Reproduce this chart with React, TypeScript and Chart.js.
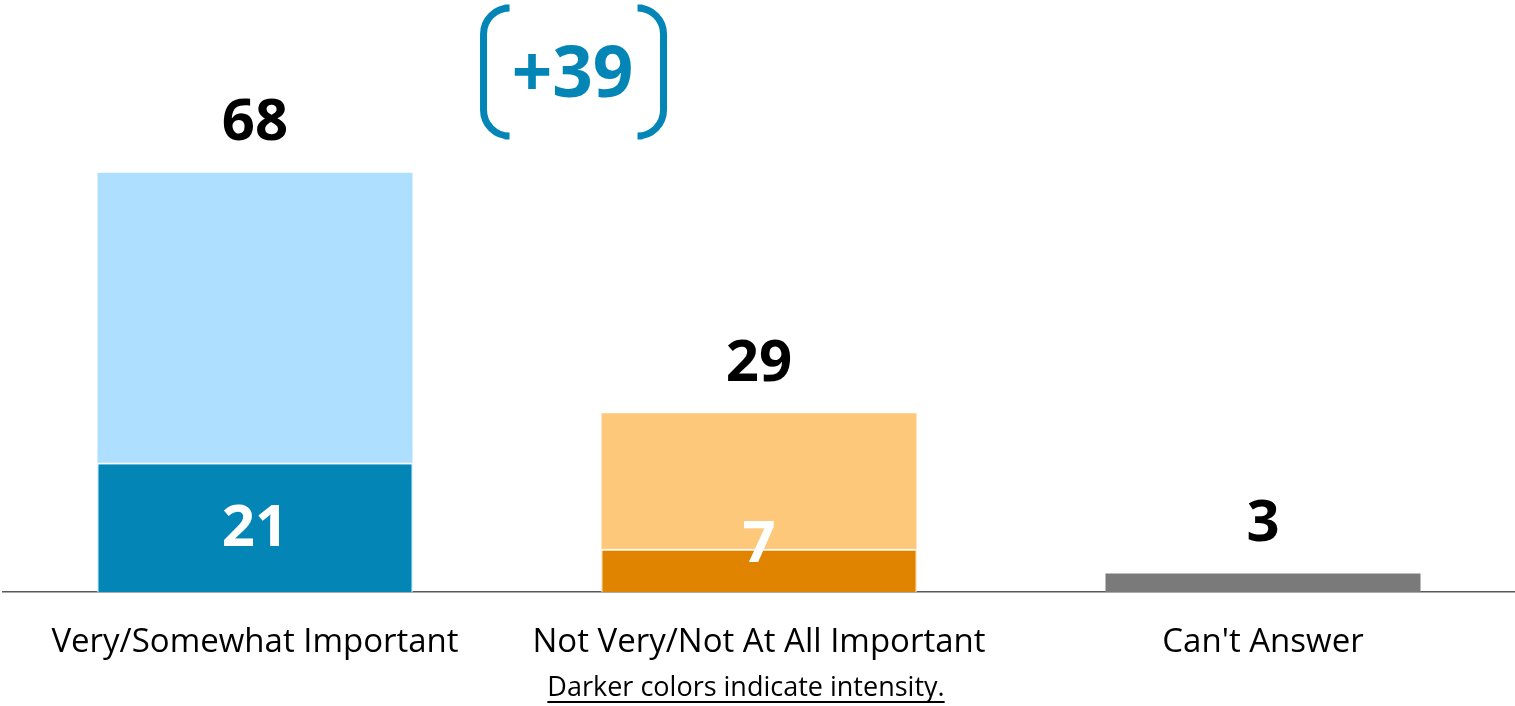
import React, { useEffect, useRef } from "react";
import { Chart, registerables } from "chart.js";

Chart.register(...registerables);

const categories = ["Very/Somewhat Important", "Not Very/Not At All Important", "Can't Answer"];
const totals = [68, 29, 3];
const intense = [21, 7, null];
const lightColors = ["#AEDFFE", "#FEC87B", "#7A7A7A"];
const darkColors = ["#0386B6", "#E08400", "#7A7A7A"];
const gapLabel = "+39";
const footnote = "Darker colors indicate intensity.";

const FONT = "'Open Sans', 'DejaVu Sans', sans-serif";
const BLUE = "#0386B6";

const labelPlugin = {
  id: "labels",
  afterDatasetsDraw(chart: any) {
    const ctx = chart.ctx;
    const xs = chart.scales.x;
    const ys = chart.scales.y;
    const base = ys.getPixelForValue(0);
    ctx.save();
    ctx.textAlign = "center";
    ctx.textBaseline = "middle";
    categories.forEach((_, i) => {
      const x = xs.getPixelForValue(i);
      const top = ys.getPixelForValue(totals[i]);
      ctx.fillStyle = "#000";
      ctx.font = `bold 58px ${FONT}`;
      ctx.fillText(String(totals[i]), x, top - 49);
      const v = intense[i];
      if (v !== null && v !== undefined) {
        const dTop = ys.getPixelForValue(v);
        const y = Math.min((dTop + base) / 2 + 2, base - 47);
        ctx.fillStyle = "#fff";
        ctx.fillText(String(v), x, y);
      }
    });
    // gap annotation
    const spacing = xs.getPixelForValue(1) - xs.getPixelForValue(0);
    const cx = xs.getPixelForValue(0) + 0.632 * spacing;
    const cy = 72;
    ctx.fillStyle = BLUE;
    ctx.font = `bold 71px ${FONT}`;
    ctx.fillText(gapLabel, cx - 1, cy + 5);
    ctx.strokeStyle = BLUE;
    ctx.lineWidth = 7;
    ctx.lineCap = "butt";
    const half = 64;
    const r = 26;
    const lx = cx - 90;
    const rx = cx + 90;
    const ew = 21;
    ctx.beginPath();
    ctx.moveTo(lx + ew, cy - half);
    ctx.arcTo(lx, cy - half, lx, cy - half + r, r);
    ctx.lineTo(lx, cy + half - r);
    ctx.arcTo(lx, cy + half, lx + ew, cy + half, r);
    ctx.lineTo(lx + ew, cy + half);
    ctx.stroke();
    ctx.beginPath();
    ctx.moveTo(rx - ew, cy - half);
    ctx.arcTo(rx, cy - half, rx, cy - half + r, r);
    ctx.lineTo(rx, cy + half - r);
    ctx.arcTo(rx, cy + half, rx - ew, cy + half, r);
    ctx.lineTo(rx - ew, cy + half);
    ctx.stroke();
    // footnote
    const fx = 746;
    const fy = 696;
    ctx.fillStyle = "#000";
    ctx.font = `27px ${FONT}`;
    ctx.textBaseline = "alphabetic";
    ctx.fillText(footnote, fx, fy);
    const w = ctx.measureText(footnote).width;
    ctx.fillRect(fx - w / 2, fy + 5, w, 2);
    ctx.restore();
  },
};

export default function App() {
  const ref = useRef<HTMLCanvasElement>(null);
  useEffect(() => {
    if (!ref.current) return;
    const chart = new Chart(ref.current, {
      type: "bar",
      data: {
        labels: categories,
        datasets: [
          {
            label: "Intensity",
            data: intense as any,
            backgroundColor: darkColors,
            borderColor: "#ffffff",
            borderWidth: { top: 2, left: 1, right: 1, bottom: 0 } as any,
            borderSkipped: false as any,
            grouped: false,
            barPercentage: 0.625,
            categoryPercentage: 1,
          },
          {
            label: "Total",
            data: totals,
            backgroundColor: lightColors,
            borderWidth: 0,
            grouped: false,
            barPercentage: 0.625,
            categoryPercentage: 1,
          },
        ],
      },
      options: {
        responsive: false,
        animation: false,
        layout: { padding: { left: 3, right: 0, top: 0, bottom: 0 } },
        plugins: { legend: { display: false }, tooltip: { enabled: false } },
        scales: {
          x: {
            grid: { display: false, drawTicks: false },
            border: { display: true, color: "#595959", width: 1.5 },
            ticks: {
              color: "#000",
              font: { family: FONT, size: 33 },
              padding: 31,
              maxRotation: 0,
            },
            afterFit: (s: any) => {
              s.height = 114;
            },
          },
          y: { display: false, min: 0, max: 96 },
        },
      },
      plugins: [labelPlugin],
    });
    return () => chart.destroy();
  }, []);
  return (
    <div style={{ position: "absolute", left: 0, top: 0, width: 1515, height: 706, background: "#fff" }}>
      <canvas ref={ref} width={1515} height={706} style={{ display: "block" }} />
    </div>
  );
}
